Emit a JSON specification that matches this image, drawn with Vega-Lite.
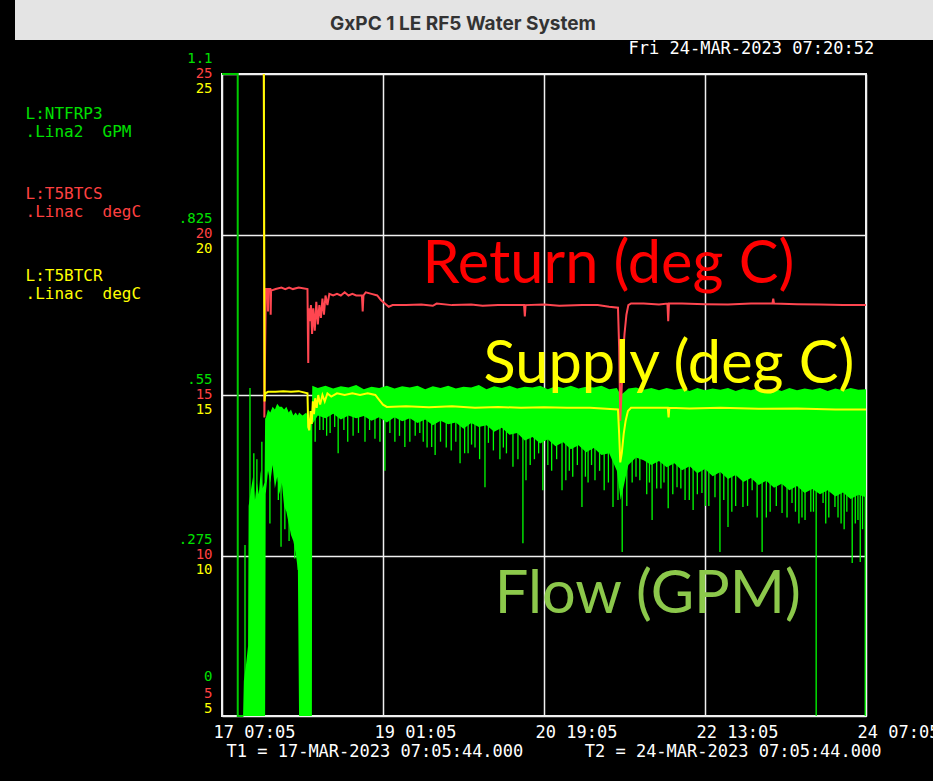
{
  "$schema": "https://vega.github.io/schema/vega-lite/v6.json",
  "width": 644,
  "height": 642,
  "autosize": {"type": "none"},
  "padding": {"left": 222, "top": 74, "right": 67, "bottom": 65},
  "background": "#000000",
  "title": {"text": "GxPC 1 LE RF5 Water System", "font": "Inter", "fontSize": 19, "fontWeight": "bold", "color": "#333333", "anchor": "middle", "frame": "group", "dx": -81, "dy": 43, "offset": 0, "baseline": "middle"},
  "config": {
    "view": {"stroke": "#f0f0f0", "strokeWidth": 2},
    "axis": {"labelFont": "DejaVu Sans Mono", "titleFont": "DejaVu Sans Mono", "titleFontWeight": "normal", "ticks": false, "domain": false, "labelFlush": false, "labelOverlap": false, "gridColor": "#f0f0f0", "gridWidth": 1.5, "gridOpacity": 1}
  },
  "datasets": {
    "flowBand": [
      {"h": 5.5, "hi": 0, "lo": 0}, {"h": 5.7, "hi": 0.06, "lo": 0}, {"h": 6.3, "hi": 0.09, "lo": 0}, {"h": 6.8, "hi": 0.12, "lo": 0},
      {"h": 6.95, "hi": 0.36, "lo": 0}, {"h": 7.6, "hi": 0.39, "lo": 0}, {"h": 8.1, "hi": 0.41, "lo": 0}, {"h": 8.6, "hi": 0.37, "lo": 0},
      {"h": 9.1, "hi": 0.4, "lo": 0}, {"h": 9.6, "hi": 0.38, "lo": 0}, {"h": 10.1, "hi": 0.42, "lo": 0}, {"h": 10.6, "hi": 0.39, "lo": 0},
      {"h": 11.1, "hi": 0.4, "lo": 0}, {"h": 11.25, "hi": 0.51, "lo": 0}, {"h": 11.4, "hi": 0.51, "lo": 0.38}, {"h": 12.0, "hi": 0.525, "lo": 0.42},
      {"h": 12.6, "hi": 0.52, "lo": 0.4}, {"h": 13.2, "hi": 0.53, "lo": 0.43}, {"h": 13.8, "hi": 0.525, "lo": 0.39}, {"h": 14.4, "hi": 0.535, "lo": 0.41},
      {"h": 15.0, "hi": 0.53, "lo": 0.38}, {"h": 15.6, "hi": 0.53, "lo": 0.4}, {"h": 16.2, "hi": 0.525, "lo": 0.36}, {"h": 16.8, "hi": 0.53, "lo": 0.35},
      {"h": 17.4, "hi": 0.52, "lo": 0.33}, {"h": 18.0, "hi": 0.525, "lo": 0.31}, {"h": 18.6, "hi": 0.515, "lo": 0.3}, {"h": 19.2, "hi": 0.52, "lo": 0.28},
      {"h": 19.8, "hi": 0.515, "lo": 0.25}, {"h": 20.1, "hi": 0.52, "lo": 0}, {"h": 21, "hi": 0.515, "lo": 0}, {"h": 22, "hi": 0.52, "lo": 0},
      {"h": 23, "hi": 0.5, "lo": 0}, {"h": 23.45, "hi": 0.51, "lo": 0}, {"h": 23.55, "hi": 0.566, "lo": 0.5},
      {"h": 25, "hi": 0.562, "lo": 0.515}, {"h": 27, "hi": 0.566, "lo": 0.51}, {"h": 29, "hi": 0.561, "lo": 0.518}, {"h": 31, "hi": 0.565, "lo": 0.508},
      {"h": 33, "hi": 0.563, "lo": 0.515}, {"h": 35, "hi": 0.567, "lo": 0.51}, {"h": 37, "hi": 0.56, "lo": 0.514}, {"h": 39, "hi": 0.564, "lo": 0.506},
      {"h": 41, "hi": 0.562, "lo": 0.512}, {"h": 43, "hi": 0.566, "lo": 0.503}, {"h": 45, "hi": 0.561, "lo": 0.512}, {"h": 47, "hi": 0.565, "lo": 0.505},
      {"h": 49, "hi": 0.563, "lo": 0.51}, {"h": 51, "hi": 0.566, "lo": 0.502}, {"h": 53, "hi": 0.56, "lo": 0.508}, {"h": 55, "hi": 0.565, "lo": 0.498},
      {"h": 57, "hi": 0.562, "lo": 0.506}, {"h": 59, "hi": 0.566, "lo": 0.5}, {"h": 61, "hi": 0.561, "lo": 0.503}, {"h": 63, "hi": 0.564, "lo": 0.492},
      {"h": 65, "hi": 0.563, "lo": 0.502}, {"h": 67, "hi": 0.567, "lo": 0.495}, {"h": 69, "hi": 0.56, "lo": 0.498}, {"h": 71, "hi": 0.565, "lo": 0.487},
      {"h": 73, "hi": 0.562, "lo": 0.494}, {"h": 75, "hi": 0.566, "lo": 0.482}, {"h": 77, "hi": 0.561, "lo": 0.485}, {"h": 79, "hi": 0.564, "lo": 0.472},
      {"h": 81, "hi": 0.563, "lo": 0.478}, {"h": 83, "hi": 0.566, "lo": 0.467}, {"h": 85, "hi": 0.56, "lo": 0.474}, {"h": 87, "hi": 0.565, "lo": 0.462},
      {"h": 89, "hi": 0.562, "lo": 0.469}, {"h": 91, "hi": 0.566, "lo": 0.457}, {"h": 93, "hi": 0.561, "lo": 0.464}, {"h": 95, "hi": 0.564, "lo": 0.452},
      {"h": 97, "hi": 0.563, "lo": 0.459}, {"h": 99, "hi": 0.566, "lo": 0.447}, {"h": 101, "hi": 0.56, "lo": 0.45}, {"h": 103, "hi": 0.562, "lo": 0.42},
      {"h": 104, "hi": 0.55, "lo": 0.37}, {"h": 105, "hi": 0.555, "lo": 0.4}, {"h": 106, "hi": 0.561, "lo": 0.43}, {"h": 108, "hi": 0.563, "lo": 0.443},
      {"h": 110, "hi": 0.559, "lo": 0.438}, {"h": 112, "hi": 0.562, "lo": 0.43}, {"h": 114, "hi": 0.558, "lo": 0.437}, {"h": 116, "hi": 0.562, "lo": 0.426},
      {"h": 118, "hi": 0.559, "lo": 0.433}, {"h": 120, "hi": 0.561, "lo": 0.421}, {"h": 122, "hi": 0.557, "lo": 0.428}, {"h": 124, "hi": 0.562, "lo": 0.416},
      {"h": 126, "hi": 0.558, "lo": 0.423}, {"h": 128, "hi": 0.561, "lo": 0.411}, {"h": 130, "hi": 0.559, "lo": 0.418}, {"h": 132, "hi": 0.562, "lo": 0.406},
      {"h": 134, "hi": 0.557, "lo": 0.413}, {"h": 136, "hi": 0.561, "lo": 0.401}, {"h": 138, "hi": 0.558, "lo": 0.408}, {"h": 140, "hi": 0.562, "lo": 0.396},
      {"h": 142, "hi": 0.559, "lo": 0.403}, {"h": 144, "hi": 0.561, "lo": 0.391}, {"h": 146, "hi": 0.557, "lo": 0.398}, {"h": 148, "hi": 0.562, "lo": 0.387},
      {"h": 150, "hi": 0.558, "lo": 0.394}, {"h": 152, "hi": 0.561, "lo": 0.382}, {"h": 154, "hi": 0.559, "lo": 0.389}, {"h": 156, "hi": 0.562, "lo": 0.38},
      {"h": 158, "hi": 0.557, "lo": 0.387}, {"h": 160, "hi": 0.561, "lo": 0.376}, {"h": 162, "hi": 0.558, "lo": 0.383}, {"h": 164, "hi": 0.562, "lo": 0.372},
      {"h": 166, "hi": 0.559, "lo": 0.379}, {"h": 168, "hi": 0.56, "lo": 0.375}
    ],
    "flowSpikes": [
      {"h": 6.0, "hi": 0.293, "lo": 0}, {"h": 7.3, "hi": 0.562, "lo": 0}, {"h": 8.3, "hi": 0.45, "lo": 0}, {"h": 9.1, "hi": 0.44, "lo": 0}, {"h": 10.4, "hi": 0.47, "lo": 0},
      {"h": 12.5, "hi": 0.5, "lo": 0.33}, {"h": 14.7, "hi": 0.5, "lo": 0.37}, {"h": 15.4, "hi": 0.5, "lo": 0.29}, {"h": 16.4, "hi": 0.5, "lo": 0.32}, {"h": 17.5, "hi": 0.5, "lo": 0.3},
      {"h": 19.0, "hi": 0.5, "lo": 0.27}, {"h": 19.9, "hi": 0.5, "lo": 0.25},
      {"h": 24.3, "hi": 0.55, "lo": 0.47}, {"h": 25.5, "hi": 0.55, "lo": 0.49}, {"h": 26.4, "hi": 0.55, "lo": 0.49}, {"h": 27.3, "hi": 0.55, "lo": 0.48},
      {"h": 28.2, "hi": 0.55, "lo": 0.485}, {"h": 29.4, "hi": 0.55, "lo": 0.495}, {"h": 30.3, "hi": 0.55, "lo": 0.45}, {"h": 31.8, "hi": 0.55, "lo": 0.49},
      {"h": 32.8, "hi": 0.55, "lo": 0.47}, {"h": 34.2, "hi": 0.55, "lo": 0.48}, {"h": 35.6, "hi": 0.55, "lo": 0.485}, {"h": 37.3, "hi": 0.55, "lo": 0.47},
      {"h": 38.5, "hi": 0.55, "lo": 0.49}, {"h": 39.9, "hi": 0.55, "lo": 0.475}, {"h": 41.2, "hi": 0.55, "lo": 0.47}, {"h": 42.5, "hi": 0.55, "lo": 0.42},
      {"h": 43.8, "hi": 0.55, "lo": 0.485}, {"h": 45.1, "hi": 0.55, "lo": 0.47}, {"h": 46.3, "hi": 0.55, "lo": 0.48}, {"h": 47.7, "hi": 0.55, "lo": 0.461},
      {"h": 49.0, "hi": 0.55, "lo": 0.47}, {"h": 50.4, "hi": 0.55, "lo": 0.48}, {"h": 51.6, "hi": 0.55, "lo": 0.485}, {"h": 52.5, "hi": 0.55, "lo": 0.47},
      {"h": 53.5, "hi": 0.55, "lo": 0.46}, {"h": 54.7, "hi": 0.55, "lo": 0.461}, {"h": 55.6, "hi": 0.55, "lo": 0.447}, {"h": 57.0, "hi": 0.55, "lo": 0.47},
      {"h": 58.5, "hi": 0.55, "lo": 0.46}, {"h": 59.8, "hi": 0.55, "lo": 0.455}, {"h": 61.0, "hi": 0.55, "lo": 0.47}, {"h": 62.1, "hi": 0.55, "lo": 0.433},
      {"h": 63.3, "hi": 0.55, "lo": 0.45}, {"h": 64.2, "hi": 0.55, "lo": 0.45}, {"h": 65.1, "hi": 0.55, "lo": 0.465}, {"h": 66, "hi": 0.55, "lo": 0.46},
      {"h": 67.2, "hi": 0.55, "lo": 0.44}, {"h": 68.6, "hi": 0.55, "lo": 0.392}, {"h": 69.5, "hi": 0.55, "lo": 0.468}, {"h": 70.8, "hi": 0.55, "lo": 0.455},
      {"h": 72.5, "hi": 0.55, "lo": 0.44}, {"h": 73.4, "hi": 0.55, "lo": 0.46}, {"h": 74.2, "hi": 0.55, "lo": 0.45}, {"h": 75.9, "hi": 0.55, "lo": 0.427},
      {"h": 77.2, "hi": 0.55, "lo": 0.44}, {"h": 78.5, "hi": 0.55, "lo": 0.296}, {"h": 79.3, "hi": 0.55, "lo": 0.404}, {"h": 80.4, "hi": 0.55, "lo": 0.43},
      {"h": 81.5, "hi": 0.55, "lo": 0.44}, {"h": 82.6, "hi": 0.55, "lo": 0.45}, {"h": 83.7, "hi": 0.55, "lo": 0.387}, {"h": 85.0, "hi": 0.55, "lo": 0.43},
      {"h": 86, "hi": 0.55, "lo": 0.42}, {"h": 87.3, "hi": 0.55, "lo": 0.44}, {"h": 88.7, "hi": 0.55, "lo": 0.387}, {"h": 89.7, "hi": 0.55, "lo": 0.404},
      {"h": 90.6, "hi": 0.55, "lo": 0.42}, {"h": 91.5, "hi": 0.55, "lo": 0.41}, {"h": 92.7, "hi": 0.55, "lo": 0.43}, {"h": 93.9, "hi": 0.55, "lo": 0.358},
      {"h": 94.8, "hi": 0.55, "lo": 0.41}, {"h": 95.5, "hi": 0.55, "lo": 0.4}, {"h": 96.4, "hi": 0.55, "lo": 0.43}, {"h": 97.3, "hi": 0.55, "lo": 0.404},
      {"h": 98.5, "hi": 0.55, "lo": 0.42}, {"h": 99.7, "hi": 0.55, "lo": 0.387}, {"h": 100.8, "hi": 0.55, "lo": 0.4}, {"h": 102, "hi": 0.55, "lo": 0.358},
      {"h": 103.3, "hi": 0.55, "lo": 0.37}, {"h": 104.4, "hi": 0.55, "lo": 0.281}, {"h": 105.6, "hi": 0.55, "lo": 0.36}, {"h": 107, "hi": 0.55, "lo": 0.4},
      {"h": 108.0, "hi": 0.55, "lo": 0.41}, {"h": 109, "hi": 0.55, "lo": 0.404}, {"h": 110.8, "hi": 0.55, "lo": 0.38}, {"h": 111.5, "hi": 0.55, "lo": 0.4},
      {"h": 112.2, "hi": 0.55, "lo": 0.336}, {"h": 113.4, "hi": 0.55, "lo": 0.39}, {"h": 114.5, "hi": 0.55, "lo": 0.39}, {"h": 115.3, "hi": 0.55, "lo": 0.4},
      {"h": 116.4, "hi": 0.55, "lo": 0.356}, {"h": 117.6, "hi": 0.55, "lo": 0.38}, {"h": 118.7, "hi": 0.55, "lo": 0.392}, {"h": 119.7, "hi": 0.55, "lo": 0.39},
      {"h": 120.8, "hi": 0.55, "lo": 0.37}, {"h": 121.9, "hi": 0.55, "lo": 0.37}, {"h": 122.9, "hi": 0.55, "lo": 0.353}, {"h": 124.0, "hi": 0.55, "lo": 0.38},
      {"h": 125.2, "hi": 0.55, "lo": 0.382}, {"h": 126.1, "hi": 0.55, "lo": 0.36}, {"h": 127, "hi": 0.55, "lo": 0.36}, {"h": 128.6, "hi": 0.55, "lo": 0.375},
      {"h": 129.9, "hi": 0.55, "lo": 0.281}, {"h": 130.9, "hi": 0.55, "lo": 0.37}, {"h": 132, "hi": 0.55, "lo": 0.324}, {"h": 133.0, "hi": 0.55, "lo": 0.35},
      {"h": 134, "hi": 0.55, "lo": 0.36}, {"h": 135.9, "hi": 0.55, "lo": 0.358}, {"h": 137.1, "hi": 0.55, "lo": 0.36}, {"h": 138.3, "hi": 0.55, "lo": 0.387},
      {"h": 139.6, "hi": 0.55, "lo": 0.34}, {"h": 140.9, "hi": 0.55, "lo": 0.281}, {"h": 142.0, "hi": 0.55, "lo": 0.34}, {"h": 143, "hi": 0.55, "lo": 0.35},
      {"h": 144.6, "hi": 0.55, "lo": 0.36}, {"h": 146.1, "hi": 0.55, "lo": 0.348}, {"h": 147.4, "hi": 0.55, "lo": 0.34}, {"h": 148.7, "hi": 0.55, "lo": 0.365},
      {"h": 149.6, "hi": 0.55, "lo": 0.35}, {"h": 150.5, "hi": 0.55, "lo": 0.33}, {"h": 151.3, "hi": 0.55, "lo": 0.34}, {"h": 152.1, "hi": 0.55, "lo": 0.336},
      {"h": 153.6, "hi": 0.55, "lo": 0.35}, {"h": 154.3, "hi": 0.55, "lo": 0.35}, {"h": 155, "hi": 0.55, "lo": 0}, {"h": 156.8, "hi": 0.55, "lo": 0.365},
      {"h": 157.5, "hi": 0.55, "lo": 0.33}, {"h": 158.3, "hi": 0.55, "lo": 0.34}, {"h": 159.9, "hi": 0.55, "lo": 0.358}, {"h": 160.7, "hi": 0.55, "lo": 0.34},
      {"h": 161.5, "hi": 0.55, "lo": 0.33}, {"h": 162.3, "hi": 0.55, "lo": 0.32}, {"h": 163, "hi": 0.55, "lo": 0.35}, {"h": 164.4, "hi": 0.55, "lo": 0.262},
      {"h": 165.2, "hi": 0.55, "lo": 0.33}, {"h": 165.9, "hi": 0.55, "lo": 0.336}, {"h": 166.5, "hi": 0.55, "lo": 0.264}, {"h": 167.1, "hi": 0.55, "lo": 0.32},
      {"h": 167.8, "hi": 0.55, "lo": 0}
    ],
    "flowTrace": [
      {"h": 0, "hi": 1.1}, {"h": 4.1, "hi": 1.1}, {"h": 4.11, "hi": 0}, {"h": 5.6, "hi": 0}
    ],
    "ret": [
      {"h": 10.9, "v": 26}, {"h": 11.05, "v": 14.3}, {"h": 11.25, "v": 16.5}, {"h": 11.45, "v": 18.3}, {"h": 11.9, "v": 18.3}, {"h": 12.0, "v": 17.6},
      {"h": 12.1, "v": 18.3}, {"h": 12.6, "v": 18.3}, {"h": 12.7, "v": 17.5}, {"h": 12.8, "v": 18.25}, {"h": 14, "v": 18.3}, {"h": 15.5, "v": 18.35},
      {"h": 16.5, "v": 18.3}, {"h": 17.5, "v": 18.35}, {"h": 18.5, "v": 18.3}, {"h": 20, "v": 18.35}, {"h": 22.3, "v": 18.3}, {"h": 22.4, "v": 17.0},
      {"h": 22.5, "v": 16.0}, {"h": 22.6, "v": 17.7}, {"h": 22.9, "v": 17.3}, {"h": 23.2, "v": 17.8}, {"h": 23.5, "v": 16.9}, {"h": 23.8, "v": 17.7},
      {"h": 24.2, "v": 17.0}, {"h": 24.6, "v": 17.9}, {"h": 25.0, "v": 17.2}, {"h": 25.4, "v": 17.8}, {"h": 25.8, "v": 17.4}, {"h": 26.2, "v": 18.0},
      {"h": 26.6, "v": 17.5}, {"h": 27.0, "v": 18.1}, {"h": 27.5, "v": 17.8}, {"h": 28.0, "v": 18.15}, {"h": 29, "v": 18.1}, {"h": 30, "v": 18.15},
      {"h": 31, "v": 18.1}, {"h": 32, "v": 18.2}, {"h": 33, "v": 18.1}, {"h": 34, "v": 18.15}, {"h": 35, "v": 18.1}, {"h": 36.5, "v": 18.1},
      {"h": 36.7, "v": 17.6}, {"h": 36.9, "v": 18.1}, {"h": 37.5, "v": 18.2}, {"h": 39, "v": 18.15}, {"h": 40.5, "v": 18.1}, {"h": 41.5, "v": 17.95},
      {"h": 42.5, "v": 17.85}, {"h": 43.5, "v": 17.75}, {"h": 44.5, "v": 17.8}, {"h": 48, "v": 17.8}, {"h": 52, "v": 17.82}, {"h": 55, "v": 17.78},
      {"h": 56, "v": 17.85}, {"h": 60, "v": 17.8}, {"h": 65, "v": 17.82}, {"h": 68, "v": 17.78}, {"h": 72, "v": 17.8}, {"h": 78.8, "v": 17.8},
      {"h": 79.0, "v": 17.45}, {"h": 79.2, "v": 17.8}, {"h": 84, "v": 17.82}, {"h": 88, "v": 17.78}, {"h": 94, "v": 17.8}, {"h": 98, "v": 17.8},
      {"h": 101, "v": 17.75}, {"h": 103.3, "v": 17.72}, {"h": 103.6, "v": 16.5}, {"h": 103.9, "v": 14.2}, {"h": 104.2, "v": 15.0}, {"h": 104.6, "v": 16.2},
      {"h": 105.0, "v": 16.9}, {"h": 105.5, "v": 17.5}, {"h": 106.0, "v": 17.8}, {"h": 106.7, "v": 17.85}, {"h": 110, "v": 17.85}, {"h": 114, "v": 17.82},
      {"h": 116.2, "v": 17.85}, {"h": 116.4, "v": 17.3}, {"h": 116.6, "v": 17.85}, {"h": 120, "v": 17.85}, {"h": 126, "v": 17.83}, {"h": 132, "v": 17.82},
      {"h": 138, "v": 17.85}, {"h": 143.6, "v": 17.85}, {"h": 143.8, "v": 18.0}, {"h": 144.0, "v": 17.85}, {"h": 150, "v": 17.83}, {"h": 156, "v": 17.82},
      {"h": 162, "v": 17.8}, {"h": 168, "v": 17.8}
    ],
    "sup": [
      {"h": 10.9, "v": 26}, {"h": 11.1, "v": 14.8}, {"h": 11.3, "v": 15.05}, {"h": 12, "v": 15.1}, {"h": 14, "v": 15.1}, {"h": 16, "v": 15.12},
      {"h": 18, "v": 15.1}, {"h": 20, "v": 15.12}, {"h": 22.3, "v": 15.05}, {"h": 22.5, "v": 14.0}, {"h": 22.8, "v": 13.9}, {"h": 23.1, "v": 14.5},
      {"h": 23.4, "v": 14.1}, {"h": 23.7, "v": 14.8}, {"h": 24.0, "v": 14.4}, {"h": 24.3, "v": 14.9}, {"h": 24.7, "v": 14.6}, {"h": 25.1, "v": 15.0},
      {"h": 25.6, "v": 14.7}, {"h": 26.2, "v": 15.0}, {"h": 26.8, "v": 14.8}, {"h": 27.5, "v": 15.05}, {"h": 28.5, "v": 14.95}, {"h": 30, "v": 15.05},
      {"h": 32, "v": 15.0}, {"h": 34, "v": 15.05}, {"h": 36, "v": 15.0}, {"h": 38, "v": 15.05}, {"h": 40.0, "v": 15.0}, {"h": 41.0, "v": 14.85},
      {"h": 42.0, "v": 14.7}, {"h": 43, "v": 14.63}, {"h": 48, "v": 14.65}, {"h": 54, "v": 14.62}, {"h": 60, "v": 14.65}, {"h": 66, "v": 14.6},
      {"h": 72, "v": 14.63}, {"h": 78, "v": 14.6}, {"h": 84, "v": 14.62}, {"h": 90, "v": 14.6}, {"h": 96, "v": 14.6}, {"h": 103.3, "v": 14.55},
      {"h": 103.6, "v": 13.8}, {"h": 103.9, "v": 12.9}, {"h": 104.3, "v": 13.2}, {"h": 104.8, "v": 13.8}, {"h": 105.3, "v": 14.2}, {"h": 105.9, "v": 14.5},
      {"h": 106.7, "v": 14.6}, {"h": 112, "v": 14.6}, {"h": 116.3, "v": 14.6}, {"h": 116.5, "v": 14.3}, {"h": 116.7, "v": 14.6}, {"h": 122, "v": 14.58},
      {"h": 130, "v": 14.6}, {"h": 140, "v": 14.57}, {"h": 150, "v": 14.58}, {"h": 160, "v": 14.55}, {"h": 168, "v": 14.55}
    ]
  },
  "layer": [
    {
      "encoding": {
        "x": {
          "field": "h", "type": "quantitative",
          "scale": {"domain": [0, 168], "nice": false, "zero": false},
          "axis": {
            "orient": "bottom", "values": [0, 42, 84, 126, 168],
            "labelExpr": "datum.value == 0 ? '17 07:05' : datum.value == 42 ? '19 01:05' : datum.value == 84 ? '20 19:05' : datum.value == 126 ? '22 13:05' : '24 07:05'",
            "labelAlign": "left", "labelOffset": -9, "labelPadding": 8, "labelBaseline": "top",
            "labelColor": "#ffffff", "labelFontSize": 17, "grid": true,
            "title": "T1 = 17-MAR-2023 07:05:44.000\u00a0\u00a0\u00a0\u00a0\u00a0\u00a0T2 = 24-MAR-2023 07:05:44.000",
            "titleX": 4, "titleY": 35, "titleAlign": "left", "titleBaseline": "middle", "titleAngle": 0,
            "titleColor": "#ffffff", "titleFontSize": 17
          }
        },
        "y": {
          "field": "hi", "type": "quantitative",
          "scale": {"domain": [0, 1.1], "nice": false, "zero": false},
          "axis": {
            "orient": "left", "values": [0, 0.275, 0.55, 0.825, 1.1],
            "labelExpr": "datum.value == 0 ? '0' : datum.value == 0.275 ? '.275' : datum.value == 0.55 ? '.55' : datum.value == 0.825 ? '.825' : '1.1'",
            "labelColor": "#00e000", "labelFontSize": 14, "labelPadding": 10, "labelAlign": "right", "labelBaseline": "middle",
            "labelOffset": {"condition": {"test": "datum.value == 0", "value": -40}, "value": -16},
            "grid": false,
            "title": ["L:NTFRP3", ".Lina2\u00a0\u00a0GPM"],
            "titleX": -197, "titleY": 31, "titleAngle": 0, "titleAlign": "left", "titleBaseline": "top",
            "titleColor": "#00e000", "titleFontSize": 16, "titleLineHeight": 18.5
          }
        }
      },
      "layer": [
        {"data": {"name": "flowBand"}, "mark": {"type": "area", "color": "#00ff00", "clip": true, "interpolate": "linear"}, "encoding": {"y2": {"field": "lo"}}},
        {"data": {"name": "flowSpikes"}, "mark": {"type": "rule", "color": "#00ff00", "strokeWidth": 1.3, "clip": true}, "encoding": {"y2": {"field": "lo"}}},
        {"data": {"name": "flowTrace"}, "mark": {"type": "line", "color": "#00cc00", "strokeWidth": 2, "clip": false}},
        {
          "data": {"values": [{"h": 111.1, "hi": 0.1765, "label": "Flow (GPM)"}]},
          "mark": {"type": "text", "font": "Lato", "fontSize": 59.5, "align": "center", "baseline": "alphabetic", "fill": "#8cc84b", "strokeWidth": 0},
          "encoding": {
            "text": {"field": "label"},
            "stroke": {
              "field": "hi", "type": "quantitative",
              "scale": {"domain": [0, 1], "range": ["#e4e4e4", "#e4e4e4"]},
              "legend": {"orient": "none", "legendX": -207, "legendY": -74, "direction": "horizontal", "gradientLength": 918, "gradientThickness": 40, "gradientStrokeWidth": 0, "title": null, "labelExpr": "''", "labelOpacity": 0, "padding": 0}
            }
          }
        }
      ]
    },
    {
      "encoding": {
        "x": {
          "field": "h", "type": "quantitative",
          "scale": {"domain": [0, 168], "nice": false, "zero": false},
          "axis": {
            "orient": "top", "labels": false, "grid": false,
            "title": "Fri 24-MAR-2023 07:20:52",
            "titleX": 406, "titleY": -26, "titleAlign": "left", "titleBaseline": "middle", "titleAngle": 0,
            "titleColor": "#ffffff", "titleFontSize": 17
          }
        },
        "y": {
          "field": "v", "type": "quantitative",
          "scale": {"domain": [5, 25], "nice": false, "zero": false},
          "axis": {
            "orient": "left", "values": [5, 10, 15, 20, 25], "format": "d",
            "labelColor": "#ff4040", "labelFontSize": 14, "labelPadding": 10, "labelAlign": "right", "labelBaseline": "middle",
            "labelOffset": {"condition": {"test": "datum.value == 5", "value": -23}, "value": -1},
            "grid": true,
            "title": ["L:T5BTCS", ".Linac\u00a0\u00a0degC"],
            "titleX": -197, "titleY": 111, "titleAngle": 0, "titleAlign": "left", "titleBaseline": "top",
            "titleColor": "#ff4040", "titleFontSize": 16, "titleLineHeight": 18.5
          }
        }
      },
      "layer": [
        {"data": {"name": "ret"}, "mark": {"type": "line", "color": "#ff4650", "strokeWidth": 2, "clip": true}},
        {
          "data": {"values": [{"h": 100.8, "v": 18.49, "label": "Return (deg C)"}]},
          "mark": {"type": "text", "font": "Lato", "fontSize": 59.5, "align": "center", "baseline": "alphabetic", "color": "#ff0000"},
          "encoding": {"text": {"field": "label"}}
        }
      ]
    },
    {
      "encoding": {
        "x": {"field": "h", "type": "quantitative", "scale": {"domain": [0, 168], "nice": false, "zero": false}, "axis": null},
        "y": {
          "field": "v", "type": "quantitative",
          "scale": {"domain": [5, 25], "nice": false, "zero": false},
          "axis": {
            "orient": "left", "values": [5, 10, 15, 20, 25], "format": "d",
            "labelColor": "#ffff00", "labelFontSize": 14, "labelPadding": 10, "labelAlign": "right", "labelBaseline": "middle",
            "labelOffset": {"condition": {"test": "datum.value == 5", "value": -8}, "value": 14},
            "grid": false,
            "title": ["L:T5BTCR", ".Linac\u00a0\u00a0degC"],
            "titleX": -197, "titleY": 193, "titleAngle": 0, "titleAlign": "left", "titleBaseline": "top",
            "titleColor": "#ffff00", "titleFontSize": 16, "titleLineHeight": 18.5
          }
        }
      },
      "layer": [
        {"data": {"name": "sup"}, "mark": {"type": "line", "color": "#ffff00", "strokeWidth": 2, "clip": true}},
        {
          "data": {"values": [{"h": 116.6, "v": 15.37, "label": "Supply (deg C)"}]},
          "mark": {"type": "text", "font": "Lato", "fontSize": 59.5, "align": "center", "baseline": "alphabetic", "color": "#ffff00"},
          "encoding": {"text": {"field": "label"}}
        }
      ]
    }
  ],
  "resolve": {"scale": {"y": "independent"}, "axis": {"y": "independent", "x": "independent"}}
}
